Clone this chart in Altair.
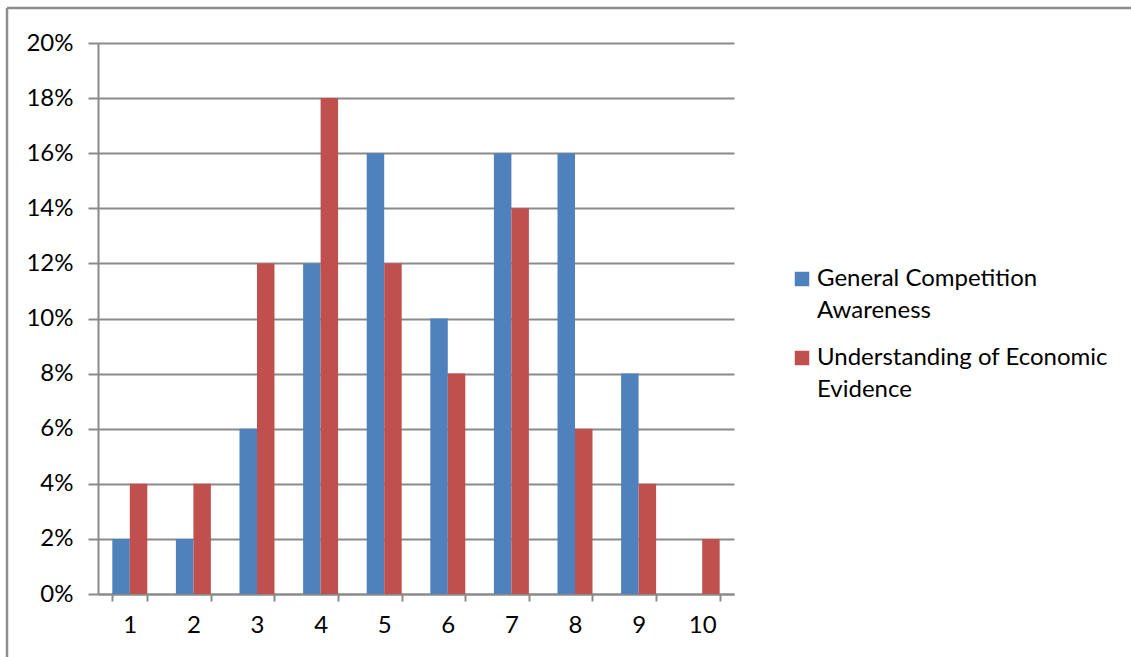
import altair as alt
import pandas as pd

# Scores 1-10 and the share of respondents giving each score
scores = ["1", "2", "3", "4", "5", "6", "7", "8", "9", "10"]
general_awareness = [0.02, 0.02, 0.06, 0.12, 0.16, 0.10, 0.16, 0.16, 0.08, 0.00]
economic_evidence = [0.04, 0.04, 0.12, 0.18, 0.12, 0.08, 0.14, 0.06, 0.04, 0.02]

series_names = ["General Competition Awareness", "Understanding of Economic Evidence"]
series_colors = ["#4F81BD", "#C0504D"]

rows = []
for s, g, e in zip(scores, general_awareness, economic_evidence):
    rows.append({"score": s, "series": series_names[0], "share": g})
    rows.append({"score": s, "series": series_names[1], "share": e})
df = pd.DataFrame(rows)

FONT = "Lato"
FS = 24
GRID = "#8a8a8a"

bars = alt.Chart(df).mark_bar().encode(
    x=alt.X(
        "score:N",
        sort=scores,
        scale=alt.Scale(paddingInner=0.45, paddingOuter=0.225),
        axis=alt.Axis(
            title=None,
            labelAngle=0,
            labelFont=FONT,
            labelFontSize=FS,
            labelColor="#000000",
            labelPadding=12,
            tickBand="extent",
            tickSize=7,
            tickWidth=2,
            tickColor=GRID,
            domainColor=GRID,
            domainWidth=2,
            grid=False,
        ),
    ),
    xOffset=alt.XOffset("series:N", sort=series_names),
    y=alt.Y(
        "share:Q",
        scale=alt.Scale(domain=[0, 0.2]),
        axis=alt.Axis(
            title=None,
            values=[i / 50 for i in range(11)],
            format=".0%",
            labelFont=FONT,
            labelFontSize=FS,
            labelColor="#000000",
            labelPadding=15,
            tickSize=10,
            tickWidth=2,
            tickColor=GRID,
            domainColor=GRID,
            domainWidth=2,
            grid=True,
            gridColor=GRID,
            gridWidth=2,
        ),
    ),
    color=alt.Color(
        "series:N",
        sort=series_names,
        scale=alt.Scale(domain=series_names, range=series_colors),
        legend=alt.Legend(
            title=None,
            orient="none",
            legendX=692,
            legendY=224,
            symbolType="square",
            symbolSize=210,
            symbolStrokeWidth=0,
            labelFont=FONT,
            labelFontSize=FS,
            labelColor="#000000",
            labelOffset=3,
            labelLimit=400,
            rowPadding=23,
            labelExpr="datum.label == 'General Competition Awareness' ? ['General Competition', 'Awareness'] : ['Understanding of Economic', 'Evidence']",
        ),
    ),
)

# Outer frame of the chart (top and left edges)
frame_df = pd.DataFrame({"k": [0]})
frame_top = alt.Chart(frame_df).mark_rule(color="#8c8c8c", strokeWidth=2.5).encode(
    x=alt.value(-91), x2=alt.value(1100), y=alt.value(-35)
)
frame_left = alt.Chart(frame_df).mark_rule(color="#8c8c8c", strokeWidth=2.5).encode(
    x=alt.value(-91), y=alt.value(-35), y2=alt.value(700)
)

chart = (
    alt.layer(bars, frame_top, frame_left)
    .properties(
        width=636,
        height=551,
        autosize=alt.AutoSizeParams(type="none"),
        padding={"left": 98, "top": 43, "right": 397, "bottom": 63},
        background="#ffffff",
    )
    .configure(
        view=alt.ViewConfig(strokeWidth=0),
        style={"guide-label": {"lineHeight": 32}},
    )
)

chart.save("out.html", embed_options={"renderer": "svg", "actions": False})
